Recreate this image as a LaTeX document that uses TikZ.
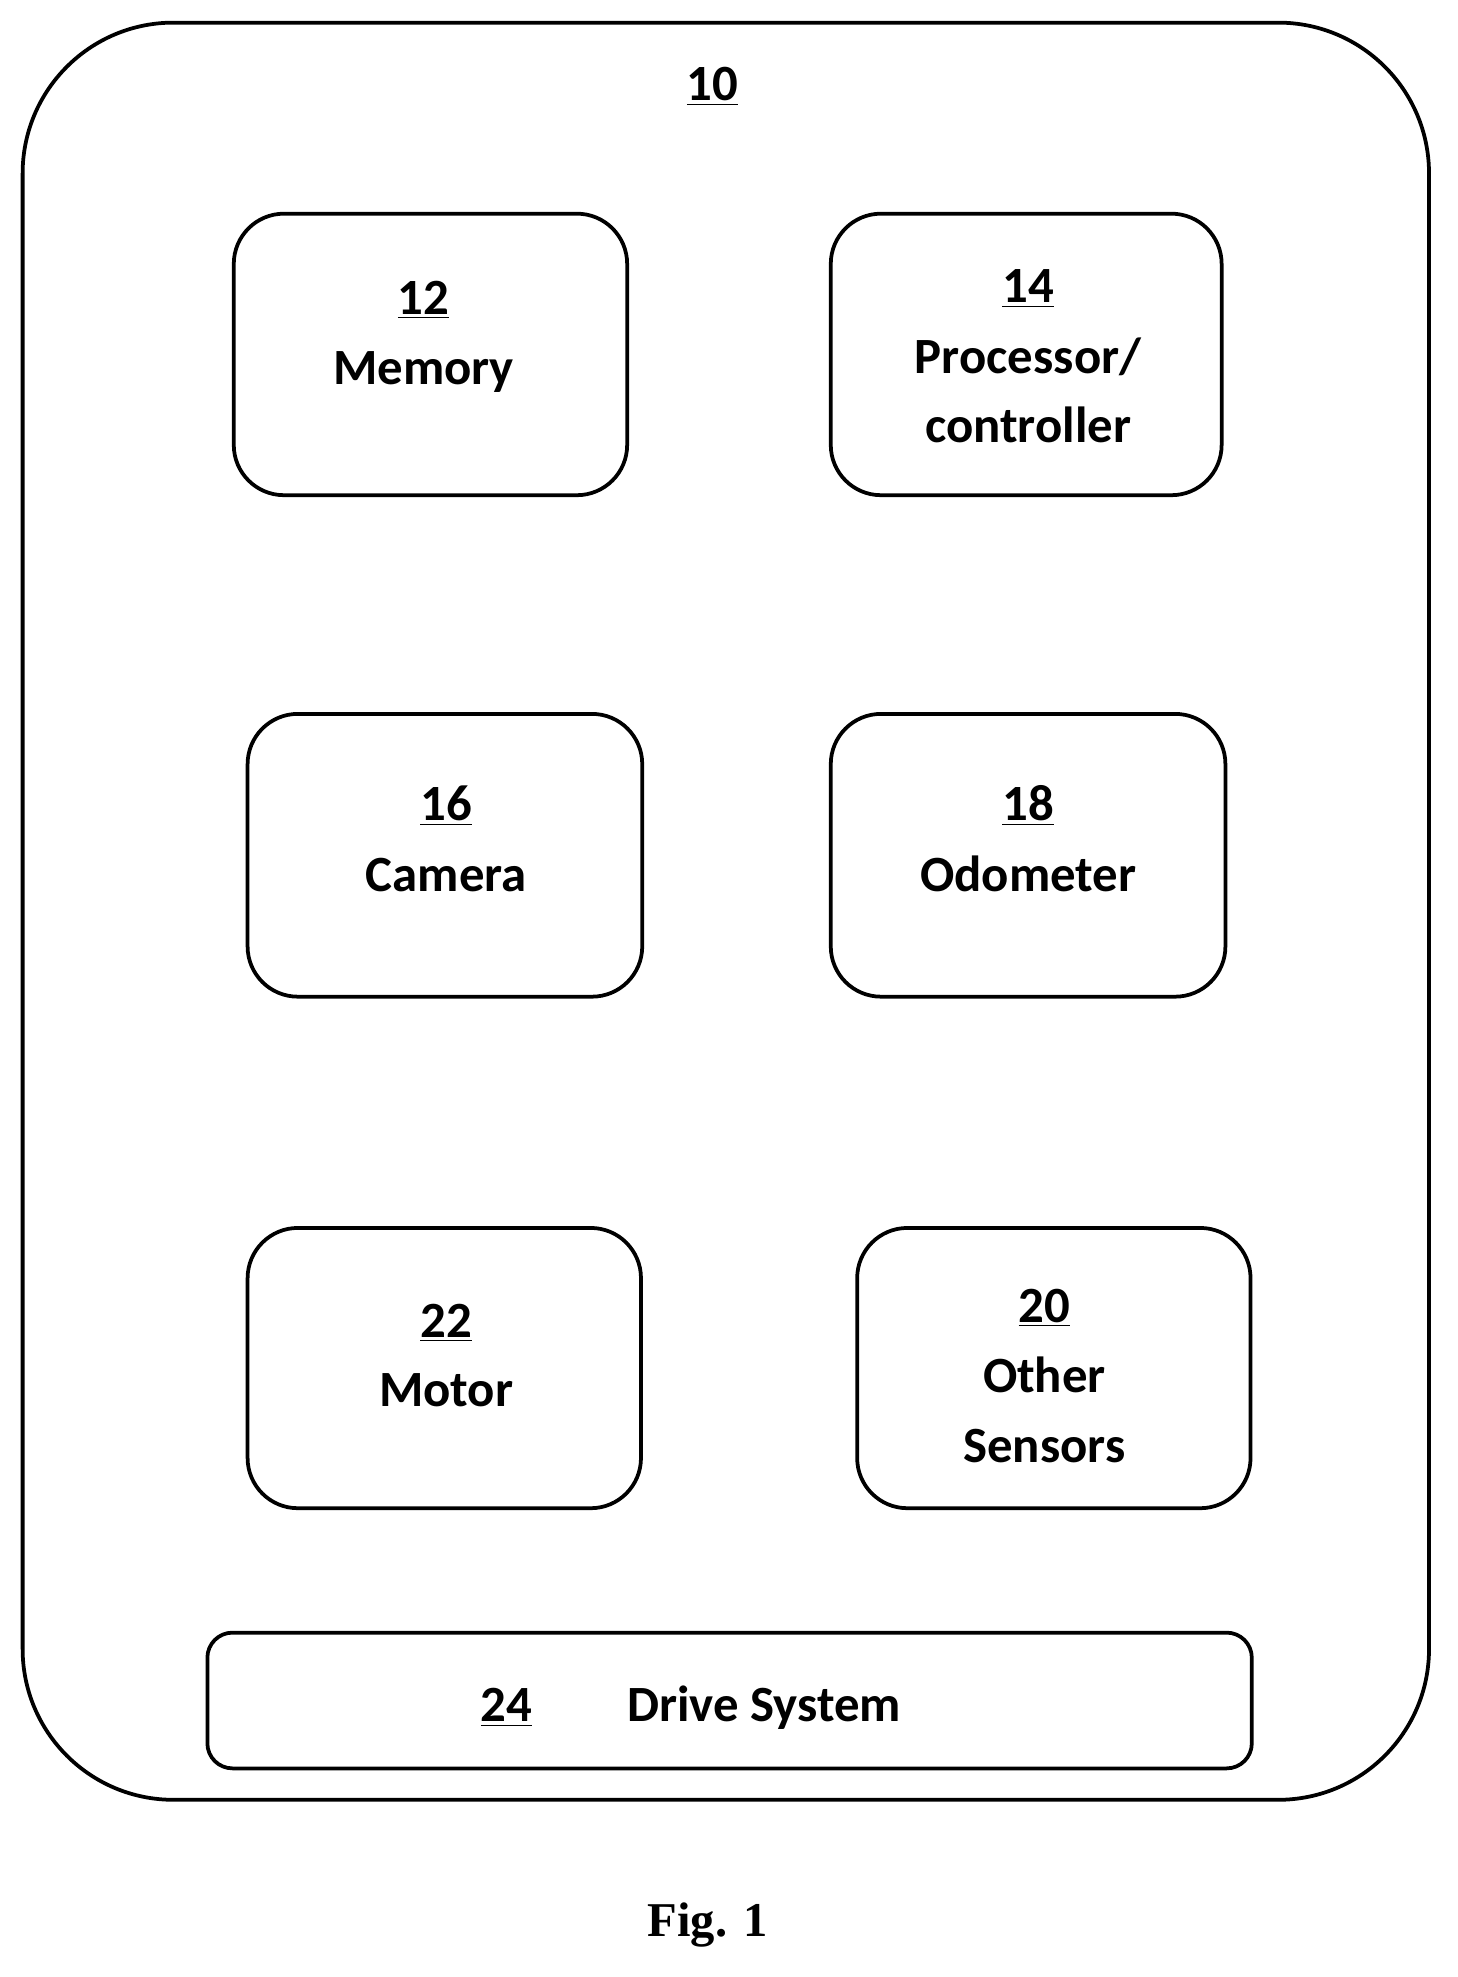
\documentclass[tikz,border=0pt]{standalone}
\usepackage{fontspec}
\setmainfont{Carlito}
\newfontfamily\serif{Liberation Serif}
\begin{document}
\begin{tikzpicture}[x=0.02cm,y=-0.02cm,
  box/.style={draw,line width=1.7pt,rounded corners=0.8cm},
  lbl/.style={font=\fontsize{23}{23}\selectfont\bfseries,inner sep=0pt,anchor=base}]
\useasboundingbox (0,0) rectangle (1160,1573);
\draw[box,rounded corners=2.4cm] (18,18) rectangle (1137,1432);
\node[lbl] (n10) at (567,80) {\underline{10}};
\draw[box] (186,170) rectangle (499,394);
\node[lbl] (n12) at (337,250) {\underline{12}};
\node[lbl] (mem) at (337,306) {Memory};
\draw[box] (661,170) rectangle (972,394);
\node[lbl] (n14) at (818,241) {\underline{14}};
\node[lbl] (proc) at (818,297) {Processor/};
\node[lbl] (ctrl) at (818,352) {controller};
\draw[box] (197,568) rectangle (511,793);
\node[lbl] (n16) at (355,653) {\underline{16}};
\node[lbl] (cam) at (355,709) {Camera};
\draw[box] (661,568) rectangle (975,793);
\node[lbl] (n18) at (818,653) {\underline{18}};
\node[lbl] (odo) at (818,709) {Odometer};
\draw[box] (197,977) rectangle (510,1200);
\node[lbl] (n22) at (355,1064) {\underline{22}};
\node[lbl] (mot) at (355,1119) {Motor};
\draw[box] (682,977) rectangle (995,1200);
\node[lbl] (n20) at (831,1052) {\underline{20}};
\node[lbl] (oth) at (831,1108) {Other};
\node[lbl] (sen) at (831,1164) {Sensors};
\draw[box,rounded corners=0.4cm] (165,1299) rectangle (996,1407);
\node[lbl] (n24) at (403,1370) {\underline{24}};
\node[lbl] (drv) at (608,1370) {Drive System};
\node[font=\serif\fontsize{22}{22}\selectfont\bfseries,inner sep=0pt,anchor=base] (fig) at (563,1541) {Fig. 1};
\end{tikzpicture}
\end{document}
